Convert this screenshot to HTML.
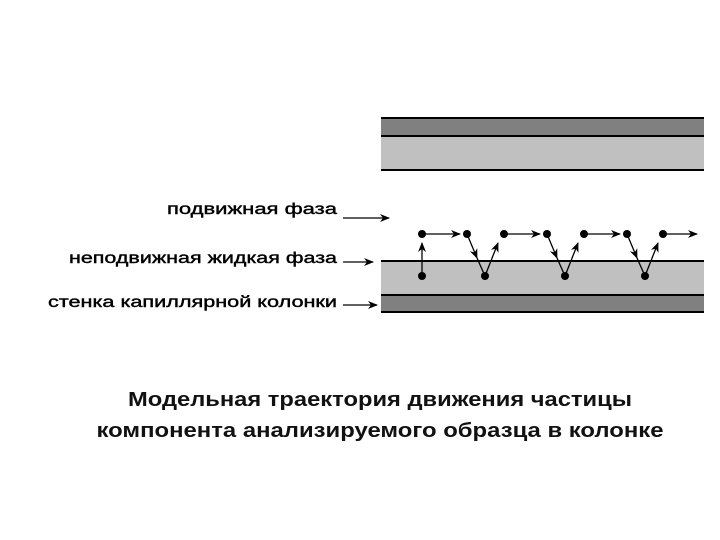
<!DOCTYPE html>
<html><head><meta charset="utf-8"><style>body{margin:0;background:#fff}svg{display:block}</style></head><body>
<svg width="720" height="540" xmlns="http://www.w3.org/2000/svg" font-family="Liberation Sans, sans-serif">
<defs><marker id="a" markerWidth="10" markerHeight="8" refX="9" refY="4" orient="auto" markerUnits="userSpaceOnUse"><path d="M0,0 L10,4 L0,8 L3,4 Z" fill="#000"/></marker></defs>
<rect x="381" y="118" width="323" height="18" fill="#808080"/>
<rect x="381" y="136" width="323" height="34" fill="#c0c0c0"/>
<g stroke="#000" stroke-width="2"><line x1="381" y1="118" x2="704" y2="118"/><line x1="381" y1="136" x2="704" y2="136"/><line x1="381" y1="170" x2="704" y2="170"/></g>
<rect x="381" y="261" width="323" height="34" fill="#c0c0c0"/>
<rect x="381" y="295" width="323" height="17" fill="#808080"/>
<g stroke="#000" stroke-width="2"><line x1="381" y1="261" x2="704" y2="261"/><line x1="381" y1="295" x2="704" y2="295"/><line x1="381" y1="312" x2="704" y2="312"/></g>
<g font-size="15.5" text-anchor="end" fill="#000" stroke="#000" stroke-width="0.4">
<text x="337" y="214" textLength="170" lengthAdjust="spacingAndGlyphs">подвижная фаза</text>
<text x="337" y="263" textLength="268" lengthAdjust="spacingAndGlyphs">неподвижная жидкая фаза</text>
<text x="337" y="307" textLength="289" lengthAdjust="spacingAndGlyphs">стенка капиллярной колонки</text>
</g>
<g stroke="#000" stroke-width="1.3" marker-end="url(#a)">
<line x1="343" y1="218" x2="389" y2="218"/>
<line x1="343" y1="262" x2="373" y2="262"/>
<line x1="343" y1="305" x2="377" y2="305"/>
<line x1="422" y1="276" x2="422" y2="243"/>
<line x1="425" y1="234" x2="460" y2="234"/>
<line x1="505" y1="234" x2="540" y2="234"/>
<line x1="585" y1="234" x2="620" y2="234"/>
<line x1="664" y1="234" x2="697" y2="234"/>
<line x1="467" y1="234" x2="477" y2="258"/>
<line x1="485" y1="276" x2="498" y2="243"/>
<line x1="547" y1="234" x2="557" y2="258"/>
<line x1="565" y1="276" x2="578" y2="243"/>
<line x1="627" y1="234" x2="637" y2="258"/>
<line x1="645" y1="276" x2="658" y2="243"/>
</g>
<g stroke="#000" stroke-width="1.3"><line x1="477" y1="258" x2="485" y2="276"/><line x1="557" y1="258" x2="565" y2="276"/><line x1="637" y1="258" x2="645" y2="276"/></g>
<g fill="#000">
<circle cx="422" cy="234" r="4"/><circle cx="422" cy="276" r="4"/>
<circle cx="467" cy="234" r="4"/><circle cx="504" cy="234" r="4"/><circle cx="485" cy="276" r="4"/>
<circle cx="547" cy="234" r="4"/><circle cx="584" cy="234" r="4"/><circle cx="565" cy="276" r="4"/>
<circle cx="627" cy="234" r="4"/><circle cx="663" cy="234" r="4"/><circle cx="645" cy="276" r="4"/>
</g>
<g font-size="20" font-weight="bold" text-anchor="middle" fill="#111">
<text x="380" y="406" textLength="504" lengthAdjust="spacingAndGlyphs">Модельная траектория движения частицы</text>
<text x="380" y="437" textLength="567" lengthAdjust="spacingAndGlyphs">компонента анализируемого образца в колонке</text>
</g>
</svg>
</body></html>
